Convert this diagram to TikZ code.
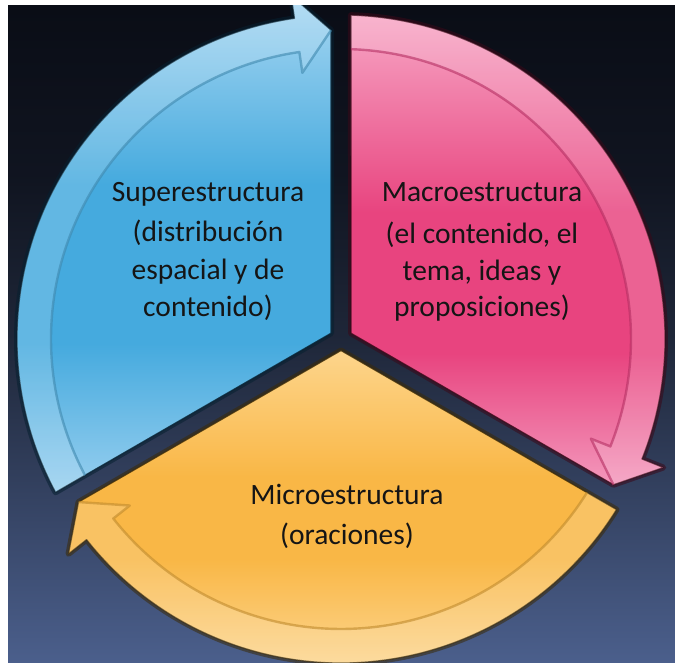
\documentclass[tikz,border=0pt]{standalone}
\usepackage{fontspec}
\setmainfont{Carlito}
\usetikzlibrary{calc}
\definecolor{bgtop}{HTML}{0A0D16}
\definecolor{bgmid}{HTML}{1E2638}
\definecolor{bgbot}{HTML}{4B5F8C}
\definecolor{blueA}{HTML}{A8D7F2}
\definecolor{blueB}{HTML}{45AADE}
\definecolor{blueC}{HTML}{98CFEF}
\definecolor{blueL}{HTML}{3E88AE}
\definecolor{blueS}{HTML}{062030}
\definecolor{pinkA}{HTML}{F7A6C5}
\definecolor{pinkB}{HTML}{E8447F}
\definecolor{pinkC}{HTML}{F398BC}
\definecolor{pinkL}{HTML}{B52E62}
\definecolor{pinkS}{HTML}{3A0818}
\definecolor{oranA}{HTML}{FDD58C}
\definecolor{oranB}{HTML}{F9B746}
\definecolor{oranC}{HTML}{FCD58E}
\definecolor{oranL}{HTML}{C08A2C}
\definecolor{oranS}{HTML}{3A2A08}
\definecolor{txt}{HTML}{151515}
\pgfdeclareverticalshading{shBlue}{100bp}{color(0bp)=(blueC); color(25bp)=(blueC); color(40bp)=(blueB); color(56bp)=(blueB); color(75bp)=(blueA); color(100bp)=(blueA)}
\pgfdeclareverticalshading{shPink}{100bp}{color(0bp)=(pinkC); color(25bp)=(pinkC); color(39bp)=(pinkB); color(54bp)=(pinkB); color(75bp)=(pinkA); color(100bp)=(pinkA)}
\pgfdeclareverticalshading{shOran}{100bp}{color(0bp)=(oranC); color(25bp)=(oranC); color(42bp)=(oranB); color(55bp)=(oranB); color(75bp)=(oranA); color(100bp)=(oranA)}
\pgfdeclareverticalshading{shBack}{100bp}{color(0bp)=(bgbot); color(25bp)=(bgbot); color(50bp)=(bgmid); color(62bp)=(bgtop!70!bgmid); color(75bp)=(bgtop); color(100bp)=(bgtop)}
\tikzset{
  lbl/.style={text=txt, font=\fontsize{29.5}{36}\selectfont, inner sep=0pt, anchor=base},
}
% geometry (pt = px of reference, y upward)
\def\Ro{324}\def\Ri{290}\def\Rt{309}\def\Rbi{269}\def\Rbo{347}\def\gap{10}
\newcommand\mkseg[4]{% start angle, shading, line colour, shadow colour
  \pgfmathsetmacro\aS{#1-asin(\gap/\Ro)}
  \pgfmathsetmacro\aSi{#1-asin(\gap/\Ri)}
  \pgfmathsetmacro\aT{#1-120+asin(\gap/\Rt)}
  \pgfmathsetmacro\aB{\aT+6.4}
  \pgfmathsetmacro\aC{#1-60}
  \coordinate (k) at (\aC:11.55);
  \draw[#4, line width=6pt, opacity=.55, line join=round]
    (k) -- (\aS:\Ro) arc[start angle=\aS, end angle=\aB, radius=\Ro]
    -- (\aB:\Rbo) -- (\aT:\Rt) -- cycle;
  \shade[shading=#2, draw=#4, draw opacity=.8, line width=1.2pt, line join=round]
    (k) -- (\aS:\Ro) arc[start angle=\aS, end angle=\aB, radius=\Ro]
    -- (\aB:\Rbo) -- (\aT:\Rt) -- cycle;
  \fill[white, opacity=.16]
    (\aSi:\Ri) arc[start angle=\aSi, end angle=\aB, radius=\Ri]
    -- (\aB:\Rbi) -- (\aT:\Rt) -- (\aB:\Rbo) -- (\aB:\Ro)
    arc[start angle=\aB, end angle=\aS, radius=\Ro] -- cycle;
  \draw[#3, line width=2.4pt, opacity=.6, line join=round]
    (\aSi:\Ri) arc[start angle=\aSi, end angle=\aB, radius=\Ri]
    -- (\aB:\Rbi) -- (\aT:\Rt);
}
\begin{document}
\begin{tikzpicture}[x=1pt,y=1pt]
\useasboundingbox (0,0) rectangle (675,663);
\fill[white] (0,0) rectangle (675,663);
\shade[shading=shBack] (8,0) rectangle (675,657);
\begin{scope}
\clip (8,0) rectangle (675,657);
\begin{scope}[shift={(341,324)}]
  \mkseg{210}{shBlue}{blueL}{blueS}
  \mkseg{90}{shPink}{pinkL}{pinkS}
  \mkseg{-30}{shOran}{oranL}{oranS}
\end{scope}
\end{scope}
\node[lbl] (s1) at (208,461) {Superestructura};
\node[lbl] (s2) at (208,421) {(distribución};
\node[lbl] (s3) at (208,383) {espacial y de};
\node[lbl] (s4) at (208,346) {contenido)};
\node[lbl] (m1) at (482,461) {Macroestructura};
\node[lbl] (m2) at (482,419) {(el contenido, el};
\node[lbl] (m3) at (482,382) {tema, ideas y};
\node[lbl] (m4) at (482,346) {proposiciones)};
\node[lbl] (o1) at (347,158) {Microestructura};
\node[lbl] (o2) at (347,118) {(oraciones)};
\end{tikzpicture}
\end{document}
